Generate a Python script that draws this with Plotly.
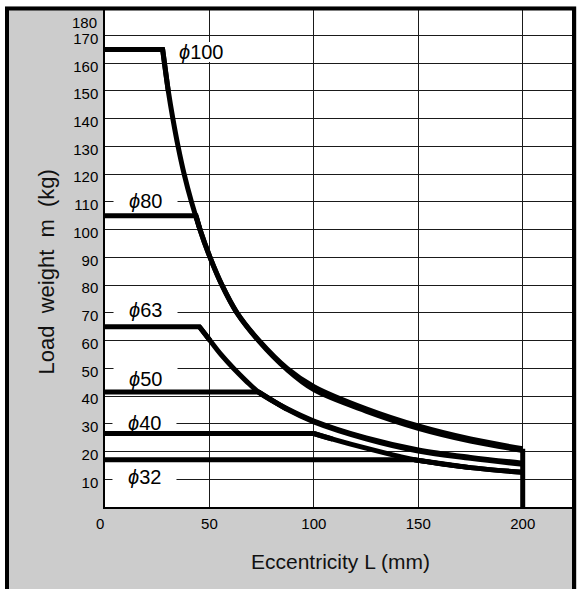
import plotly.graph_objects as go

FONT = "Liberation Sans, Arial, Helvetica, sans-serif"

# ---------------- data ----------------
# phi100
p100_flat_L = [0, 27.6]
p100_flat_m = [165, 165]
p100_L = [27.6, 30.3, 32.5, 35.0, 37.9, 41.4, 45.5, 50.3, 56.0, 63.2, 73.8, 87.2, 100, 125, 150, 175, 200]
p100_m = [165, 150, 140, 130, 120, 110, 100, 90, 80, 70, 60, 50, 43.4, 35.4, 29.2, 24.5, 21.0]
# phi80
p80_flat_L = [0, 43.6]
p80_flat_m = [105, 105]
p80_L = [43.6, 45.5, 50.3, 56.0, 63.2, 73.8, 87.2, 100, 125, 150, 175, 200]
p80_m = [105, 100, 90, 80, 70, 59.7, 49.5, 42.3, 34.6, 28.4, 23.8, 20.4]
# phi63
p63_flat_L = [0, 45.2]
p63_flat_m = [65, 65]
p63_L = [45.2, 50.3, 55.5, 61.5, 67.5, 74.2, 87, 100, 125, 150, 175, 200]
p63_m = [65, 60, 55, 50, 45.5, 41, 35.5, 31, 24.9, 20.6, 17.9, 15.8]
# phi50
p50_flat_L = [0, 73.5]
p50_flat_m = [41.5, 41.5]
p50_L = [73.5, 87, 100, 125, 150, 175, 200]
p50_m = [41.5, 35.3, 30.7, 24.6, 20.2, 17.6, 15.4]
# phi40
p40_flat_L = [0, 100]
p40_flat_m = [26.5, 26.5]
p40_L = [100, 109, 125, 141, 150, 175, 200]
p40_m = [26.5, 24.5, 21.2, 18.2, 16.8, 14.2, 12.5]
# phi32
p32_flat_L = [0, 148]
p32_flat_m = [17, 17]
p32_L = [148, 175, 200]
p32_m = [17, 14.2, 12.5]
# stroke limit at L = 200
limit_L = [200, 200]
limit_m = [21.0, 0]

label_text = ["100", "80", "63", "50", "40", "32"]
label_L = [46.0, 19.4, 19.4, 19.4, 18.9, 18.9]
label_m = [164.1, 110.2, 70.9, 46.3, 30.3, 10.8]
label_halfw_px = [38, 32, 32, 32, 32, 32]
label_halfh_px = [10, 11, 11, 12, 11, 12]

y_ticks = [10, 20, 30, 40, 50, 60, 70, 80, 90, 100, 110, 120, 130, 140, 150, 160, 170]
x_ticks = [50, 100, 150, 200]

# ---------------- layout constants ----------------
W, H = 577, 589
ML, MR, MT, MB = 105, 5, 10, 82
X_RANGE = [0, 223.6]
Y_RANGE = [0, 179.2]
PW, PH = W - ML - MR, H - MT - MB
PX_X = PW / (X_RANGE[1] - X_RANGE[0])
PX_Y = PH / (Y_RANGE[1] - Y_RANGE[0])


def px_to_paper_x(px):
    return (px - ML) / PW


def px_to_paper_y(py):
    return (H - MB - py) / PH


fig = go.Figure()
LW = 5
series = [
    (p100_flat_L, p100_flat_m, p100_L, p100_m),
    (p80_flat_L, p80_flat_m, p80_L, p80_m),
    (p63_flat_L, p63_flat_m, p63_L, p63_m),
    (p50_flat_L, p50_flat_m, p50_L, p50_m),
    (p40_flat_L, p40_flat_m, p40_L, p40_m),
    (p32_flat_L, p32_flat_m, p32_L, p32_m),
]
for fl, fm, cl, cm in series:
    fig.add_trace(go.Scatter(x=fl + cl[1:2], y=fm + cm[1:2], mode="lines",
                             line=dict(color="black", width=LW, shape="linear"),
                             hoverinfo="skip", showlegend=False))
    fig.add_trace(go.Scatter(x=cl, y=cm, mode="lines",
                             line=dict(color="black", width=LW, shape="spline", smoothing=1.0),
                             hoverinfo="skip", showlegend=False))
fig.add_trace(go.Scatter(x=limit_L, y=limit_m, mode="lines",
                         line=dict(color="black", width=LW),
                         hoverinfo="skip", showlegend=False))

shapes = []
annotations = []
for t, lx, ly, hw, hh in zip(label_text, label_L, label_m, label_halfw_px, label_halfh_px):
    shapes.append(dict(type="rect", xref="x", yref="y", layer="between",
                       x0=lx - hw / PX_X, x1=lx + hw / PX_X,
                       y0=ly - hh / PX_Y, y1=ly + hh / PX_Y,
                       fillcolor="white", line=dict(width=0)))
    annotations.append(dict(x=lx, y=ly, xref="x", yref="y", showarrow=False,
                            text="<i>ϕ</i>" + t,
                            font=dict(family=FONT, size=20, color="black"),
                            xanchor="center", yanchor="middle"))

TICK_FONT = dict(family=FONT, size=15, color="black")
# extra labels
annotations.append(dict(x=0, y=174.7, xref="paper", yref="y", showarrow=False, text="180",
                        xanchor="right", yanchor="middle", xshift=-6, font=TICK_FONT))
annotations.append(dict(x=px_to_paper_x(99.5), y=px_to_paper_y(523), xref="paper", yref="paper",
                        showarrow=False, text="0", xanchor="center", yanchor="middle", font=TICK_FONT))
annotations.append(dict(x=px_to_paper_x(340), y=px_to_paper_y(561), xref="paper", yref="paper",
                        showarrow=False, text="Eccentricity L (mm)", xanchor="center", yanchor="middle",
                        font=dict(family=FONT, size=21, color="#111")))
annotations.append(dict(x=px_to_paper_x(46), y=px_to_paper_y(271.5), xref="paper", yref="paper",
                        showarrow=False, text="Load&nbsp; weight&nbsp; m&nbsp; (kg)", textangle=-90,
                        xanchor="center", yanchor="middle",
                        font=dict(family=FONT, size=22, color="#111")))

# white margins outside the frame, and the frame itself
shapes.append(dict(type="rect", xref="paper", yref="paper", layer="above",
                   x0=px_to_paper_x(-5), x1=px_to_paper_x(W + 5),
                   y0=px_to_paper_y(6.5), y1=px_to_paper_y(-5),
                   fillcolor="white", line=dict(width=0)))
shapes.append(dict(type="rect", xref="paper", yref="paper", layer="above",
                   x0=px_to_paper_x(-5), x1=px_to_paper_x(5),
                   y0=px_to_paper_y(H + 5), y1=px_to_paper_y(-5),
                   fillcolor="white", line=dict(width=0)))
shapes.append(dict(type="rect", xref="paper", yref="paper", layer="above",
                   x0=px_to_paper_x(7), x1=px_to_paper_x(574),
                   y0=px_to_paper_y(H + 20), y1=px_to_paper_y(8.5),
                   fillcolor="rgba(0,0,0,0)", line=dict(color="black", width=4)))

fig.update_layout(
    width=W, height=H,
    margin=dict(l=ML, r=MR, t=MT, b=MB, pad=0),
    paper_bgcolor="#cccccc", plot_bgcolor="white",
    font=dict(family=FONT, size=15, color="black"),
    showlegend=False,
    shapes=shapes, annotations=annotations,
    xaxis=dict(range=X_RANGE, tickvals=x_ticks, ticktext=[str(v) for v in x_ticks],
               showgrid=True, gridcolor="#1a1a1a", gridwidth=1.2,
               showline=True, linecolor="black", linewidth=1.5,
               zeroline=False, ticks="", ticklabelstandoff=2,
               tickfont=TICK_FONT, fixedrange=True),
    yaxis=dict(range=Y_RANGE, tickvals=y_ticks, ticktext=[str(v) for v in y_ticks],
               showgrid=True, gridcolor="#1a1a1a", gridwidth=1.2,
               showline=True, linecolor="black", linewidth=1.5,
               zeroline=False, ticks="", ticklabelstandoff=2, ticklabelshift=3,
               tickfont=TICK_FONT, fixedrange=True),
)

fig.write_html("out.html", config={"displayModeBar": False},
               post_script="document.body.style.margin='0';document.body.style.overflow='hidden';")
